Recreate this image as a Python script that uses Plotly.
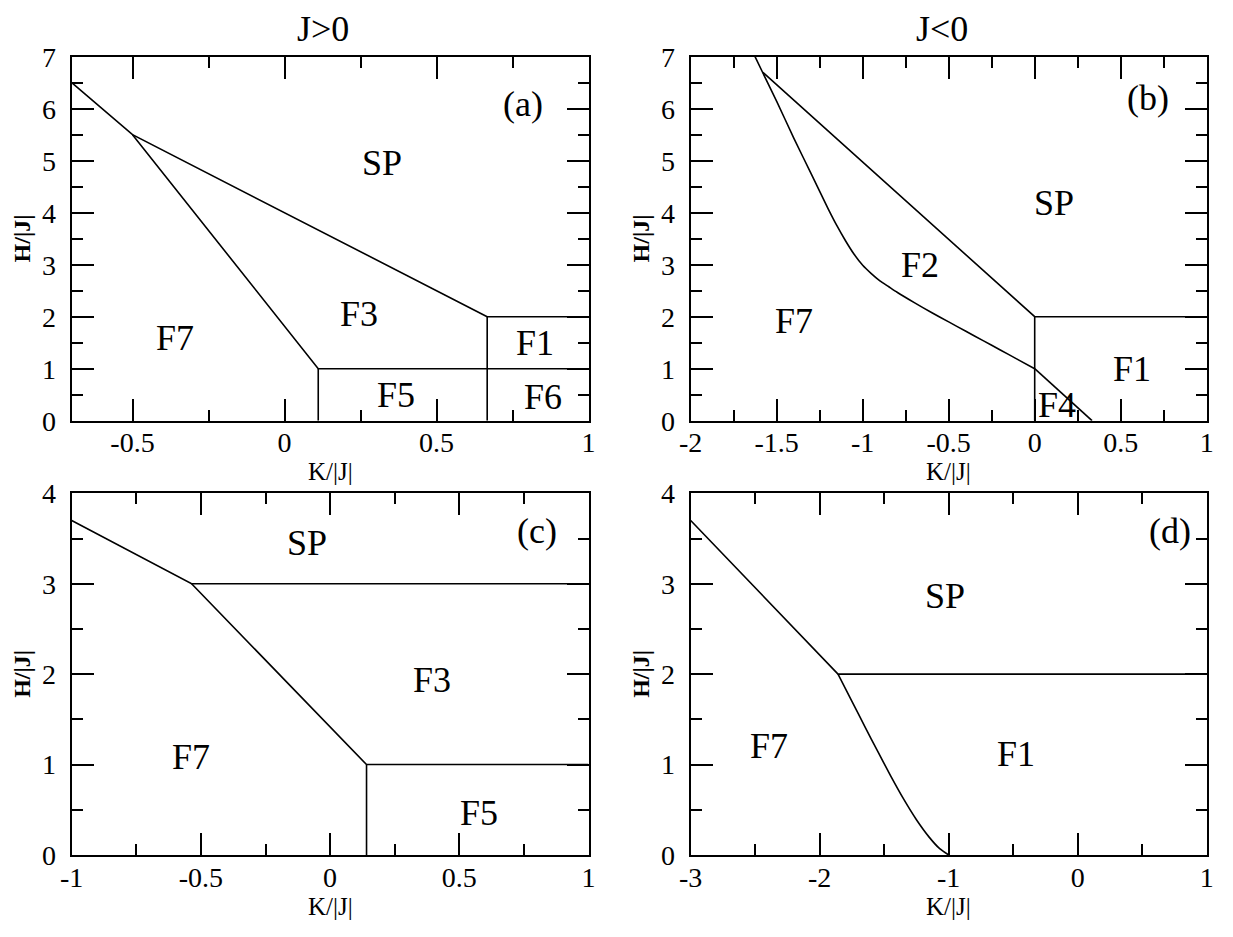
import plotly.graph_objects as go

# ---- panel (a): J>0, first diagram ----
a_sp_k = [-0.7, -0.5, 0.6667]
a_sp_h = [6.5, 5.5, 2.0]
a_f7_k = [-0.5, 0.111, 1.0]
a_f7_h = [5.5, 1.0, 1.0]
a_f5_k = [0.111, 0.111]
a_f5_h = [0.0, 1.0]
a_f1_k = [0.6667, 0.6667, 1.0]
a_f1_h = [0.0, 2.0, 2.0]

# ---- panel (b): J<0, first diagram ----
b_curve_k = [-1.626, -1.5, -1.4, -1.3, -1.2, -1.15, -1.1, -1.05, -1.0, -0.95, -0.9,
             -0.85, -0.8, -0.7, -0.6, -0.5, -0.4, -0.3, -0.2, -0.1, 0.0]
b_curve_h = [7.0, 6.14, 5.43, 4.75, 4.07, 3.75, 3.46, 3.20, 2.99, 2.83, 2.69,
             2.58, 2.47, 2.27, 2.08, 1.90, 1.72, 1.54, 1.36, 1.18, 1.0]
b_f4_k = [0.0, 0.3333]
b_f4_h = [1.0, 0.0]
b_sp_k = [-1.58, 0.0, 1.0]
b_sp_h = [6.70, 2.0, 2.0]
b_v_k = [0.0, 0.0]
b_v_h = [0.0, 2.0]

# ---- panel (c): J>0, second diagram ----
c_sp_k = [-1.0, -0.536, 1.0]
c_sp_h = [3.7, 3.0, 3.0]
c_f7_k = [-0.536, 0.141, 1.0]
c_f7_h = [3.0, 1.0, 1.0]
c_v_k = [0.141, 0.141]
c_v_h = [0.0, 1.0]

# ---- panel (d): J<0, second diagram ----
d_sp_k = [-3.0, -1.858, 1.0]
d_sp_h = [3.7, 2.0, 2.0]
d_curve_k = [-1.858, -1.75, -1.65, -1.55, -1.45, -1.35, -1.25, -1.15, -1.07, -1.0]
d_curve_h = [2.0, 1.70, 1.42, 1.145, 0.875, 0.62, 0.39, 0.195, 0.07, 0.0]

# region labels (text, K, H)
a_labels = [("SP", 0.32, 4.95), ("F3", 0.244, 2.06), ("F7", -0.36, 1.6),
            ("F1", 0.825, 1.49), ("F5", 0.368, 0.49), ("F6", 0.85, 0.46)]
b_labels = [("SP", 0.115, 4.18), ("F2", -0.667, 3.0), ("F7", -1.4, 1.92),
            ("F1", 0.565, 1.0), ("F4", 0.127, 0.3)]
c_labels = [("SP", -0.089, 3.45), ("F3", 0.393, 1.93), ("F7", -0.54, 1.08),
            ("F5", 0.577, 0.46)]
d_labels = [("SP", -1.03, 2.86), ("F7", -2.39, 1.21), ("F1", -0.48, 1.12)]
panel_tags = [("(a)", 0.786, 6.1), ("(b)", 0.657, 6.2), ("(c)", 0.8, 3.58), ("(d)", 0.715, 3.58)]

# tick labels
a_xticks = [-0.5, 0, 0.5, 1]
a_xtext = ["-0.5", "0", "0.5", "1"]
b_xticks = [-2, -1.5, -1, -0.5, 0, 0.5, 1]
b_xtext = ["-2", "-1.5", "-1", "-0.5", "0", "0.5", "1"]
c_xticks = [-1, -0.5, 0, 0.5, 1]
c_xtext = ["-1", "-0.5", "0", "0.5", "1"]
d_xticks = [-3, -2, -1, 0, 1]
d_xtext = ["-3", "-2", "-1", "0", "1"]
top_yticks = [0, 1, 2, 3, 4, 5, 6, 7]
bot_yticks = [0, 1, 2, 3, 4]

# page has an 8px body margin, so the figure is 8px smaller than the window
OFF = 8
W, H = 1225, 929
FONT = "Liberation Serif"

fig = go.Figure()

def add_line(k, h, xa, ya, smooth=False):
    line = dict(color="black", width=1.6)
    if smooth:
        line.update(shape="spline", smoothing=0.5)
    fig.add_trace(go.Scatter(x=k, y=h, mode="lines", xaxis=xa, yaxis=ya, line=line,
                             showlegend=False, hoverinfo="skip"))

add_line(a_sp_k, a_sp_h, "x", "y")
add_line(a_f7_k, a_f7_h, "x", "y")
add_line(a_f5_k, a_f5_h, "x", "y")
add_line(a_f1_k, a_f1_h, "x", "y")

add_line(b_curve_k, b_curve_h, "x2", "y2", smooth=True)
add_line(b_f4_k, b_f4_h, "x2", "y2")
add_line(b_sp_k, b_sp_h, "x2", "y2")
add_line(b_v_k, b_v_h, "x2", "y2")

add_line(c_sp_k, c_sp_h, "x3", "y3")
add_line(c_f7_k, c_f7_h, "x3", "y3")
add_line(c_v_k, c_v_h, "x3", "y3")

add_line(d_sp_k, d_sp_h, "x4", "y4")
add_line(d_curve_k, d_curve_h, "x4", "y4", smooth=True)

# panel boxes in screen pixels (left, right, top, bottom)
boxes = {
    "a": (71.7, 588.5, 56.7, 420.7),
    "b": (690.7, 1206.7, 56.7, 420.7),
    "c": (71.7, 588.5, 493.3, 855.0),
    "d": (690.7, 1206.7, 493.3, 855.0),
}

def px(x):
    return (x - OFF) / W

def py(y):
    return 1 - (y - OFF) / H

def dom(box):
    x0, x1, y0, y1 = box
    return [px(x0), px(x1)], [py(y1), py(y0)]

def axis_common():
    return dict(showline=True, linecolor="black", linewidth=2, mirror="allticks",
                ticks="inside", ticklen=22, tickwidth=2, tickcolor="black",
                showgrid=False, zeroline=False, fixedrange=True, automargin=False,
                tickfont=dict(family=FONT, size=28, color="black"))

specs = [
    ("a", "xaxis", "yaxis", "y", "x", [-0.7, 1], a_xticks, a_xtext, 0.25, [0, 7], top_yticks),
    ("b", "xaxis2", "yaxis2", "y2", "x2", [-2, 1], b_xticks, b_xtext, 0.25, [0, 7], top_yticks),
    ("c", "xaxis3", "yaxis3", "y3", "x3", [-1, 1], c_xticks, c_xtext, 0.25, [0, 4], bot_yticks),
    ("d", "xaxis4", "yaxis4", "y4", "x4", [-3, 1], d_xticks, d_xtext, 0.5, [0, 4], bot_yticks),
]
layout = {}
for key, xn, yn, yanc, xanc, xr, xt, xtt, xminor, yr, yt in specs:
    xd, yd = dom(boxes[key])
    xa = axis_common()
    xa.update(domain=xd, anchor=yanc, range=xr, tickmode="array", tickvals=xt, ticktext=xtt,
              ticklabelstandoff=-4,
              minor=dict(ticks="inside", ticklen=11, tickwidth=2, tickcolor="black",
                         tickmode="linear", tick0=0, dtick=xminor, showgrid=False))
    ya = axis_common()
    ya.update(domain=yd, anchor=xanc, range=yr, tickmode="array", tickvals=yt,
              ticktext=[str(v) for v in yt], ticklabelstandoff=8,
              minor=dict(ticks="inside", ticklen=11, tickwidth=2, tickcolor="black",
                         tickmode="linear", tick0=0, dtick=0.5, showgrid=False))
    layout[xn] = xa
    layout[yn] = ya

annotations = []
refs = {"a": ("x", "y"), "b": ("x2", "y2"), "c": ("x3", "y3"), "d": ("x4", "y4")}
for key, labels in [("a", a_labels), ("b", b_labels), ("c", c_labels), ("d", d_labels)]:
    xr_, yr_ = refs[key]
    for txt, k, h in labels:
        annotations.append(dict(x=k, y=h, xref=xr_, yref=yr_, text=txt, showarrow=False,
                                xanchor="center", yanchor="middle",
                                font=dict(family=FONT, size=36, color="black")))
for (txt, k, h), key in zip(panel_tags, "abcd"):
    xr_, yr_ = refs[key]
    annotations.append(dict(x=k, y=h, xref=xr_, yref=yr_, text=txt, showarrow=False,
                            xanchor="center", yanchor="middle",
                            font=dict(family=FONT, size=36, color="black")))

# titles and axis labels (paper coordinates)
for key, title in [("a", "J>0"), ("b", "J<0")]:
    x0, x1, y0, y1 = boxes[key]
    annotations.append(dict(x=px((x0 + x1) / 2 - 7), y=1.0, xref="paper", yref="paper",
                            text=title, showarrow=False, xanchor="center", yanchor="top",
                            borderpad=0,
                            font=dict(family=FONT, size=36, color="black")))
for key in "abcd":
    x0, x1, y0, y1 = boxes[key]
    annotations.append(dict(x=px((x0 + x1) / 2), y=py(y1 + 51), xref="paper", yref="paper",
                            text="K/|J|", showarrow=False, xanchor="center", yanchor="middle",
                            font=dict(family=FONT, size=25, color="black")))
    annotations.append(dict(x=px(x0 - 50), y=py((y0 + y1) / 2), xref="paper", yref="paper",
                            text="<b>H/|J|</b>", showarrow=False, textangle=-90,
                            xanchor="center", yanchor="middle",
                            font=dict(family=FONT, size=24, color="black")))

fig.update_layout(**layout)
fig.update_layout(template="none", width=W, height=H, margin=dict(l=0, r=0, t=0, b=0),
                  paper_bgcolor="white", plot_bgcolor="white",
                  annotations=annotations, showlegend=False)

fig.write_html("out.html")
